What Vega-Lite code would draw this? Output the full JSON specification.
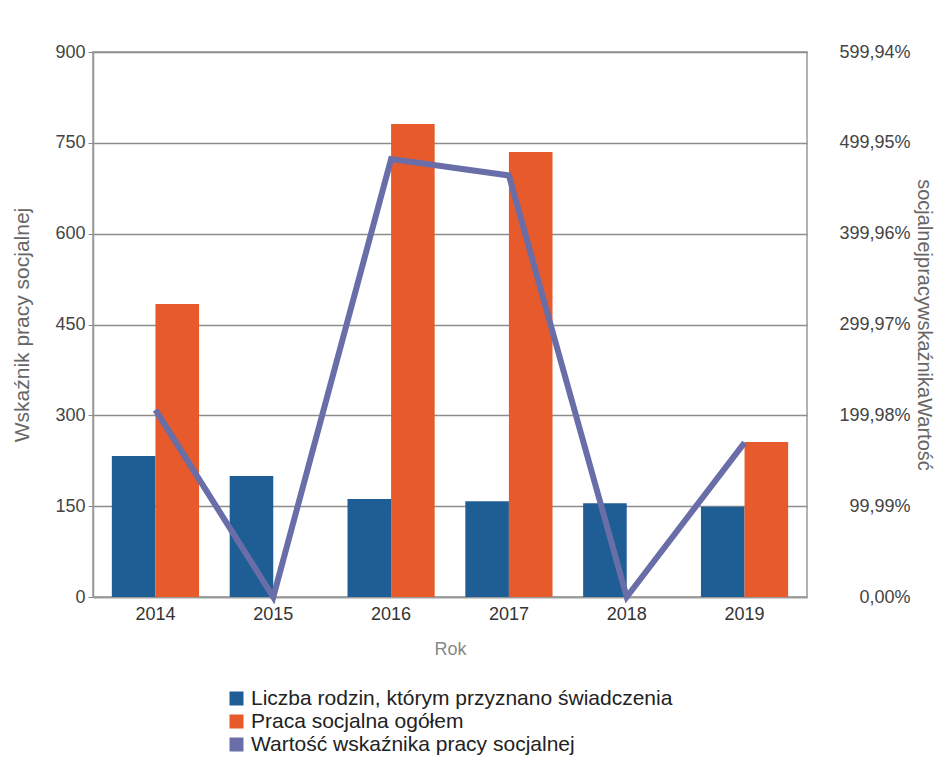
{
  "$schema": "https://vega.github.io/schema/vega-lite/v6.json",
  "autosize": {"type": "none"},
  "width": 714,
  "height": 545,
  "padding": {"left": 93, "top": 52, "right": 129, "bottom": 165},
  "background": "white",
  "config": {
    "font": "Liberation Sans",
    "view": {"stroke": "#999999", "strokeWidth": 1.5},
    "axis": {"labelFont": "Liberation Sans", "titleFont": "Liberation Sans", "titleFontWeight": "normal"}
  },
  "datasets": {
    "bars": [
      {"Rok": "2014", "seria": "Liczba rodzin, którym przyznano świadczenia", "wartosc": 233},
      {"Rok": "2014", "seria": "Praca socjalna ogółem", "wartosc": 484},
      {"Rok": "2015", "seria": "Liczba rodzin, którym przyznano świadczenia", "wartosc": 200},
      {"Rok": "2015", "seria": "Praca socjalna ogółem", "wartosc": 0},
      {"Rok": "2016", "seria": "Liczba rodzin, którym przyznano świadczenia", "wartosc": 162},
      {"Rok": "2016", "seria": "Praca socjalna ogółem", "wartosc": 781},
      {"Rok": "2017", "seria": "Liczba rodzin, którym przyznano świadczenia", "wartosc": 158},
      {"Rok": "2017", "seria": "Praca socjalna ogółem", "wartosc": 735},
      {"Rok": "2018", "seria": "Liczba rodzin, którym przyznano świadczenia", "wartosc": 155},
      {"Rok": "2018", "seria": "Praca socjalna ogółem", "wartosc": 0},
      {"Rok": "2019", "seria": "Liczba rodzin, którym przyznano świadczenia", "wartosc": 149},
      {"Rok": "2019", "seria": "Praca socjalna ogółem", "wartosc": 256}
    ],
    "line": [
      {"Rok": "2014", "seria": "Wartość wskaźnika pracy socjalnej", "procent": 206},
      {"Rok": "2015", "seria": "Wartość wskaźnika pracy socjalnej", "procent": 0},
      {"Rok": "2016", "seria": "Wartość wskaźnika pracy socjalnej", "procent": 482},
      {"Rok": "2017", "seria": "Wartość wskaźnika pracy socjalnej", "procent": 464},
      {"Rok": "2018", "seria": "Wartość wskaźnika pracy socjalnej", "procent": 0},
      {"Rok": "2019", "seria": "Wartość wskaźnika pracy socjalnej", "procent": 170}
    ]
  },
  "encoding": {
    "x": {
      "field": "Rok", "type": "nominal",
      "scale": {"paddingInner": 0.26, "paddingOuter": 0.16},
      "axis": {
        "title": "Rok", "titleColor": "#888888", "titleFontSize": 18, "titlePadding": 17,
        "labelAngle": 0, "labelFontSize": 18, "labelColor": "#333333", "labelPadding": 8,
        "ticks": false, "domainColor": "#999999", "domainWidth": 1.5
      }
    }
  },
  "layer": [
    {
      "data": {"name": "bars"},
      "mark": {"type": "bar"},
      "encoding": {
        "xOffset": {"field": "seria", "type": "nominal"},
        "y": {
          "field": "wartosc", "type": "quantitative",
          "scale": {"domain": [0, 900], "nice": false},
          "axis": {
            "title": "Wskaźnik pracy socjalnej", "titleColor": "#666666", "titleFontSize": 21, "titlePadding": 22,
            "values": [0, 150, 300, 450, 600, 750, 900],
            "labelFontSize": 18, "labelColor": "#444444", "labelPadding": 3,
            "tickSize": 5, "tickColor": "#888888", "domainColor": "#999999", "domainWidth": 1.5,
            "grid": true, "gridColor": "#8c8c8c", "gridWidth": 1.5
          }
        },
        "color": {
          "field": "seria", "type": "nominal",
          "scale": {
            "domain": ["Liczba rodzin, którym przyznano świadczenia", "Praca socjalna ogółem", "Wartość wskaźnika pracy socjalnej"],
            "range": ["#1f5e95", "#e65a2b", "#6a6ea8"]
          },
          "legend": {
            "title": null, "orient": "none", "legendX": 133, "legendY": 636,
            "direction": "vertical", "symbolType": "square", "symbolSize": 196,
            "symbolStrokeWidth": 0, "labelFontSize": 21, "labelColor": "#222222",
            "labelFont": "Liberation Sans", "rowPadding": 1, "labelOffset": 4, "labelLimit": 600
          }
        }
      }
    },
    {
      "data": {"name": "line"},
      "mark": {"type": "line", "strokeWidth": 6, "color": "#6a6ea8"},
      "encoding": {
        "y": {
          "field": "procent", "type": "quantitative",
          "scale": {"domain": [0, 599.94], "nice": false},
          "axis": {
            "orient": "right",
            "title": "socjalnejpracywskaźnikaWartość", "titleAngle": 90, "titleColor": "#666666", "titleFontSize": 20, "titlePadding": 3,
            "values": [0, 99.99, 199.98, 299.97, 399.96, 499.95, 599.94],
            "labelExpr": "replace(format(datum.value, '.2f'), '.', ',') + '%'",
            "labelFontSize": 18, "labelColor": "#444444", "labelAlign": "right", "labelPadding": 103,
            "ticks": false, "domain": false, "grid": false
          }
        },
        "color": {"field": "seria", "type": "nominal"}
      }
    }
  ],
  "resolve": {"scale": {"y": "independent"}}
}
